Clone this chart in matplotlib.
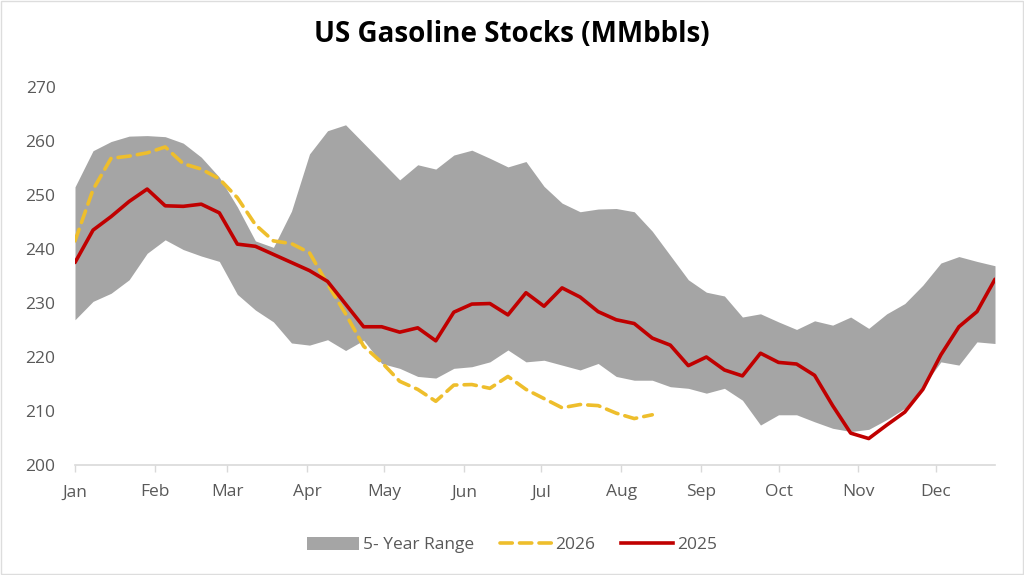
import matplotlib
matplotlib.use("Agg")
import matplotlib.pyplot as plt
from matplotlib.patches import Patch, Rectangle
from matplotlib.lines import Line2D
import numpy as np

plt.rcParams['font.family'] = ['Open Sans', 'DejaVu Sans']

# ---- data (weekly, week index 0..51) ----
months = ['Jan', 'Feb', 'Mar', 'Apr', 'May', 'Jun', 'Jul', 'Aug', 'Sep', 'Oct', 'Nov', 'Dec']
month_start_day = [0, 31, 59, 90, 120, 151, 181, 212, 243, 273, 304, 334]

range_upper = [251.5, 258.2, 259.9, 260.9, 261.0, 260.8, 259.6, 257.0, 253.3, 247.8,
               241.5, 240.3, 247.0, 257.6, 261.9, 263.0, 259.6, 256.2, 252.8, 255.6,
               254.8, 257.4, 258.3, 256.8, 255.2, 256.2, 251.6, 248.5, 246.9, 247.4,
               247.5, 246.9, 243.3, 238.8, 234.3, 232.0, 231.3, 227.4, 228.0, 226.5,
               225.1, 226.7, 225.9, 227.4, 225.3, 228.0, 229.9, 233.3, 237.4, 238.6,
               237.7, 236.9]
range_lower = [226.9, 230.3, 231.8, 234.3, 239.2, 241.7, 239.9, 238.7, 237.7, 231.6,
               228.7, 226.5, 222.6, 222.2, 223.2, 221.2, 223.1, 218.8, 217.9, 216.4,
               216.1, 217.9, 218.2, 219.1, 221.3, 219.1, 219.4, 218.5, 217.6, 218.8,
               216.4, 215.7, 215.7, 214.5, 214.2, 213.3, 214.2, 212.0, 207.4, 209.3,
               209.3, 208.0, 206.8, 206.2, 206.6, 208.4, 210.5, 214.5, 219.1, 218.5,
               222.8, 222.5]
stocks_2025 = [237.5, 243.5, 246.0, 248.8, 251.1, 248.0, 247.9, 248.3, 246.7, 240.9,
               240.5, 239.0, 237.5, 236.0, 234.0, 229.8, 225.6, 225.6, 224.6, 225.4,
               223.0, 228.3, 229.8, 229.9, 227.8, 231.9, 229.4, 232.8, 231.1, 228.4,
               226.9, 226.2, 223.5, 222.2, 218.4, 220.0, 217.6, 216.5, 220.7, 219.0,
               218.7, 216.6, 211.0, 205.9, 204.9, 207.4, 209.8, 214.0, 220.4, 225.6,
               228.4, 234.4]
stocks_2026 = [241.5, 251.0, 256.8, 257.2, 257.8, 258.9, 255.8, 254.8, 253.0, 249.5,
               244.5, 241.5, 241.0, 239.3, 233.5, 228.0, 222.0, 219.0, 215.5, 214.0,
               211.8, 214.8, 214.9, 214.2, 216.4, 214.0, 212.3, 210.6, 211.2, 211.0,
               209.6, 208.6, 209.3]
y_ticks = [200, 210, 220, 230, 240, 250, 260, 270]

days_full = np.arange(len(range_upper)) * 7
days_2026 = np.arange(len(stocks_2026)) * 7

GRAY = '#A5A5A5'
GOLD = '#EEBE2C'
RED = '#C00000'
TXT = '#595959'

fig = plt.figure(figsize=(10.24, 5.75), dpi=100)
ax = fig.add_axes([75 / 1024, 110 / 575, 920 / 1024, 378 / 575])

ax.fill_between(days_full, range_lower, range_upper, color=GRAY, linewidth=0, zorder=1)
l26, = ax.plot(days_2026, stocks_2026, color=GOLD, linewidth=2.6, zorder=3,
               dash_capstyle='round')
l26.set_dashes((3.4, 2.0))
ax.plot(days_full, stocks_2025, color=RED, linewidth=2.6, zorder=4,
        solid_joinstyle='round', solid_capstyle='round')

ax.set_xlim(0, days_full[-1])
ax.set_ylim(200, 270)
ax.set_yticks(y_ticks)
ax.set_xticks(month_start_day)
ax.set_xticklabels(months)

for s in ['top', 'right', 'left']:
    ax.spines[s].set_visible(False)
ax.spines['bottom'].set_color('#D9D9D9')
ax.spines['bottom'].set_linewidth(1.2)
ax.tick_params(axis='x', colors='#D9D9D9', length=5, width=1, direction='out',
               labelcolor=TXT, labelsize=12.5, pad=9)
ax.tick_params(axis='y', length=0, labelcolor=TXT, labelsize=12.5, pad=14)

fig.text(0.5, 1 - 35 / 575, 'US Gasoline Stocks (MMbbls)', ha='center', va='center',
         fontsize=20, fontweight='bold', color='black')

handles = [Patch(facecolor=GRAY, edgecolor='none'),
           Line2D([0], [0], color=GOLD, linewidth=2.6, dashes=(3.4, 2.0), dash_capstyle='round'),
           Line2D([0], [0], color=RED, linewidth=2.6)]
fig.legend(handles, ['5- Year Range', '2026', '2025'], loc='center',
           bbox_to_anchor=(0.5, 1 - 545 / 575), ncol=3, frameon=False,
           fontsize=12.5, labelcolor=TXT, handlelength=3.0, handletextpad=0.2,
           columnspacing=1.5, handleheight=0.8)

fig.patches.append(Rectangle((0.001, 0.001), 0.998, 0.998, transform=fig.transFigure,
                             fill=False, edgecolor='#DDDDDD', linewidth=1))

fig.savefig('out.png', dpi=100, facecolor='white')
